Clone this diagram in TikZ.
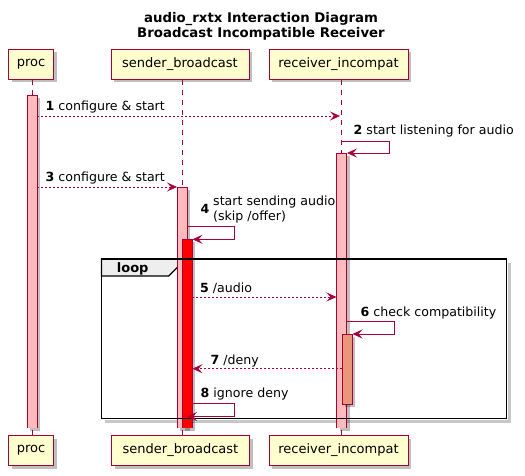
\documentclass[tikz,border=0pt]{standalone}
\usepackage{fontspec}
\setmainfont{DejaVu Sans}
\usetikzlibrary{arrows.meta,shadows}
\definecolor{pl}{HTML}{A80036}
\definecolor{bx}{HTML}{FEFECE}
\definecolor{actc}{HTML}{FFBBBB}
\definecolor{act2}{HTML}{E9967A}
\definecolor{tabg}{HTML}{EEEEEE}
\begin{document}
\begin{tikzpicture}[x=1pt,y=-1pt,
  every node/.style={font=\fontsize{12.6}{15}\selectfont},
  shad/.style={drop shadow={shadow xshift=3pt, shadow yshift=-3pt, fill=black, opacity=0.25}},
  part/.style={draw=pl, fill=bx, line width=1pt, minimum height=30pt, inner sep=0pt, shad, font=\fontsize{13}{15}\selectfont},
  life/.style={draw=pl, dash pattern=on 5pt off 5pt, line width=0.8pt},
  barfill/.style={shad},
  baredge/.style={draw=pl, line width=0.8pt},
  msg/.style={draw=pl, line width=0.8pt, -{Stealth[length=10pt,width=9pt,inset=4pt]}},
  ret/.style={msg, dash pattern=on 2pt off 2pt},
  lbl/.style={anchor=base west, inner sep=0pt},
  ttl/.style={font=\fontsize{13.3}{15}\selectfont\bfseries, align=center}
]
\useasboundingbox (0,0) rectangle (525,476);

% title
\node[ttl, anchor=base] (t1) at (261,23) {audio\_rxtx Interaction Diagram};
\node[ttl, anchor=base] (t2) at (261,38) {Broadcast Incompatible Receiver};

% participants
\node[part, minimum width=45pt]  (p1) at (31,64.5) {proc};
\node[part, minimum width=138pt] (s1) at (180,64.5) {sender\_broadcast};
\node[part, minimum width=139pt] (r1) at (338.5,64.5) {receiver\_incompat};
\node[part, minimum width=45pt]  (p2) at (31,450.5) {proc};
\node[part, minimum width=138pt] (s2) at (180.5,450.5) {sender\_broadcast};
\node[part, minimum width=139pt] (r2) at (338.5,450.5) {receiver\_incompat};

% lifelines
\draw[life] ([xshift=1.3pt]p1.south) -- ([xshift=1.3pt]p2.north);
\draw[life] ([xshift=2pt]s1.south) -- ([xshift=1.5pt]s2.north);
\draw[life] ([xshift=2.5pt]r1.south) -- ([xshift=2.5pt]r2.north);

% loop frame: shadow and tab
\coordinate (fa) at (101.5,259); \coordinate (fb) at (506.5,418.5);
\draw[black, opacity=0.22, line width=2.5pt] (509.5,263) -- (509.5,421.5) -- (105,421.5);
\path[fill=tabg, draw=black, line width=1.2pt] (101.5,259) -- (178.7,259) -- (178.7,266) -- (168.7,276) -- (101.5,276) -- cycle;

% activations (open at the bottom)
\path[barfill, fill=actc] (27.3,95) rectangle (37.3,428);
\draw[baredge] (27.3,428) -- (27.3,95) -- (37.3,95) -- (37.3,428);
\path[barfill, fill=actc] (336.5,153) rectangle (346.5,428);
\draw[baredge] (336.5,428) -- (336.5,153) -- (346.5,153) -- (346.5,428);
\path[barfill, fill=actc] (177,187) rectangle (187,428);
\draw[baredge] (177,428) -- (177,187) -- (187,187) -- (187,428);
\path[barfill, fill=red] (182.3,239.3) rectangle (192.3,428);
\draw[baredge] (182.3,428) -- (182.3,239.3) -- (192.3,239.3) -- (192.3,428);
\path[barfill, fill=act2, draw=pl, line width=0.8pt] (342,334) rectangle (352,404);

% frame outline on top of bars
\draw[line width=1.6pt] (fa) rectangle (fb);
\node[lbl, font=\fontsize{13}{15}\selectfont\bfseries] (lp) at (116.7,272.5) {loop};

\coordinate (a1s) at (37.3,116);  \coordinate (a1e) at (340,116);
\coordinate (a2s) at (341,141);   \coordinate (a2r) at (389.3,141); \coordinate (a2b) at (389.3,153); \coordinate (a2e) at (347,153);
\coordinate (a3s) at (37.3,187);  \coordinate (a3e) at (177,187);
\coordinate (a4s) at (187,226.7); \coordinate (a4r) at (234.3,226.7); \coordinate (a4b) at (234.3,239.3); \coordinate (a4e) at (192.5,239.3);
\coordinate (a5s) at (192.3,297); \coordinate (a5e) at (336.5,297);
\coordinate (a6s) at (346.5,321.7); \coordinate (a6r) at (394.3,321.7); \coordinate (a6b) at (394.3,334); \coordinate (a6e) at (352.5,334);
\coordinate (a7s) at (342,368.7); \coordinate (a7e) at (192.5,368.7);
\coordinate (a8s) at (192.3,403.3); \coordinate (a8r) at (234.3,403.3); \coordinate (a8b) at (234.3,416.5); \coordinate (a8e) at (187,416.5);

% messages
\draw[ret] (a1s) -- (a1e);
\node[lbl] (l1) at (45.5,111) {\textbf{1} configure \& start};
\draw[msg] (a2s) -- (a2r) -- (a2b) -- (a2e);
\node[lbl] (l2) at (353.5,135) {\textbf{2} start listening for audio};
\draw[ret] (a3s) -- (a3e);
\node[lbl] (l3) at (45.5,181.5) {\textbf{3} configure \& start};
\draw[msg] (a4s) -- (a4r) -- (a4b) -- (a4e);
\node[lbl] (l4n) at (200.5,213) {\textbf{4}};
\node[lbl] (l4a) at (213,205.5) {start sending audio};
\node[lbl] (l4b) at (213,220) {(skip /offer)};
\draw[ret] (a5s) -- (a5e);
\node[lbl] (l5) at (200,292) {\textbf{5} /audio};
\draw[msg] (a6s) -- (a6r) -- (a6b) -- (a6e);
\node[lbl] (l6) at (360.5,316.5) {\textbf{6} check compatibility};
\draw[ret] (a7s) -- (a7e);
\node[lbl] (l7) at (210.5,364) {\textbf{7} /deny};
\draw[msg] (a8s) -- (a8r) -- (a8b) -- (a8e);
\node[lbl] (l8) at (200.5,397.5) {\textbf{8} ignore deny};
\end{tikzpicture}
\end{document}
